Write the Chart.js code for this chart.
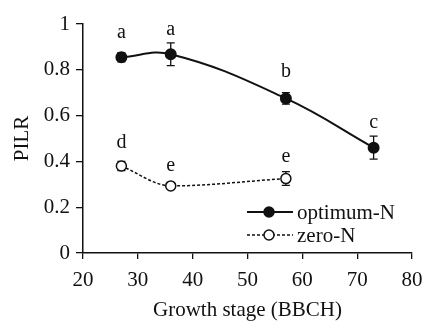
<!DOCTYPE html>
<html>
<head>
<meta charset="utf-8">
<script src="https://cdn.jsdelivr.net/npm/chart.js@4.4.0/dist/chart.umd.min.js"></script>
<style>
    html, body { margin: 0; padding: 0; background: #fff; }
    #wrap { width: 423px; height: 323px; }
</style>
</head>
<body>
<div id="wrap"><canvas id="pilrChart" width="423" height="323"></canvas></div>
<script>
// data
const stages = [27, 36, 57, 73];
const zeroStages = [27, 36, 57];
const optimumN = [0.855, 0.868, 0.675, 0.46];
const optimumErr = [0.02, 0.05, 0.025, 0.05];
const zeroN = [0.38, 0.293, 0.325];
const zeroErr = [0.02, 0.012, 0.03];
const optimumLetters = ['a', 'a', 'b', 'c'];
const optimumLetterY = [0.96, 0.974, 0.79, 0.57];
const zeroLetters = ['d', 'e', 'e'];
const zeroLetterY = [0.48, 0.38, 0.42];
const yTicks = [0, 0.2, 0.4, 0.6, 0.8, 1];
const xTicks = [20, 30, 40, 50, 60, 70, 80];

const SERIF = "'Liberation Serif', 'DejaVu Serif', serif";
const INK = '#111';

function toPoints(xs, ys) {
    return xs.map((x, i) => ({ x: x, y: ys[i] }));
}

// error bars go under the markers
const errorBars = {
    id: 'errorBars',
    beforeDatasetsDraw(chart) {
        const ctx = chart.ctx;
        const xs = chart.scales.x;
        const ys = chart.scales.y;
        const sets = [[stages, optimumN, optimumErr], [zeroStages, zeroN, zeroErr]];
        ctx.save();
        ctx.strokeStyle = INK;
        ctx.lineWidth = 1.3;
        sets.forEach(([sx, sy, se]) => {
            sx.forEach((x, i) => {
                const px = xs.getPixelForValue(x);
                const top = ys.getPixelForValue(sy[i] + se[i]);
                const bot = ys.getPixelForValue(sy[i] - se[i]);
                ctx.beginPath();
                ctx.moveTo(px, top); ctx.lineTo(px, bot);
                ctx.moveTo(px - 4, top); ctx.lineTo(px + 4, top);
                ctx.moveTo(px - 4, bot); ctx.lineTo(px + 4, bot);
                ctx.stroke();
            });
        });
        ctx.restore();
    }
};

// significance letters + legend inside the plot
const extras = {
    id: 'extras',
    afterDraw(chart) {
        const ctx = chart.ctx;
        const xs = chart.scales.x;
        const ys = chart.scales.y;
        ctx.save();
        ctx.fillStyle = INK;
        ctx.font = '20px ' + SERIF;
        ctx.textAlign = 'center';
        ctx.textBaseline = 'middle';
        stages.forEach((x, i) => {
            ctx.fillText(optimumLetters[i], xs.getPixelForValue(x), ys.getPixelForValue(optimumLetterY[i]));
        });
        zeroStages.forEach((x, i) => {
            ctx.fillText(zeroLetters[i], xs.getPixelForValue(x), ys.getPixelForValue(zeroLetterY[i]));
        });

        // legend
        const rows = [
            { label: chart.data.datasets[0].label, y: 212, dash: [], width: 2, fill: INK },
            { label: chart.data.datasets[1].label, y: 235, dash: [3, 2], width: 1.5, fill: '#fff' }
        ];
        ctx.font = '21px ' + SERIF;
        rows.forEach(r => {
            ctx.strokeStyle = INK;
            ctx.lineWidth = r.width;
            ctx.setLineDash(r.dash);
            ctx.beginPath();
            ctx.moveTo(247, r.y); ctx.lineTo(293, r.y);
            ctx.stroke();
            ctx.setLineDash([]);
            ctx.lineWidth = 1.5;
            ctx.fillStyle = r.fill;
            ctx.beginPath();
            ctx.arc(269, r.y, 5, 0, Math.PI * 2);
            ctx.fill();
            ctx.stroke();
            ctx.fillStyle = INK;
            ctx.textAlign = 'left';
            ctx.fillText(r.label, 297, r.y + 1);
        });
        ctx.restore();
    }
};

new Chart(document.getElementById('pilrChart'), {
    type: 'line',
    data: {
        datasets: [
            {
                label: 'optimum-N',
                data: toPoints(stages, optimumN),
                borderColor: INK,
                borderWidth: 2,
                backgroundColor: INK,
                pointBackgroundColor: INK,
                pointBorderColor: INK,
                pointRadius: 5,
                tension: 0.4
            },
            {
                label: 'zero-N',
                data: toPoints(zeroStages, zeroN),
                borderColor: INK,
                borderWidth: 1.5,
                borderDash: [3, 2],
                pointBackgroundColor: '#fff',
                pointBorderColor: INK,
                pointBorderWidth: 1.5,
                pointRadius: 5,
                cubicInterpolationMode: 'monotone'
            }
        ]
    },
    options: {
        responsive: false,
        animation: false,
        layout: { padding: { top: 24, right: 11, left: 0, bottom: 0 } },
        plugins: {
            legend: { display: false },
            tooltip: { enabled: false }
        },
        scales: {
            x: {
                type: 'linear',
                min: 20,
                max: 80,
                afterBuildTicks: (s) => { s.ticks = xTicks.map(v => ({ value: v })); },
                afterFit: (s) => { s.height = 70; s.paddingLeft = 0; s.paddingRight = 0; },
                grid: { drawOnChartArea: false, tickLength: 6, color: INK, lineWidth: 1.3 },
                border: { color: INK, width: 1.5 },
                ticks: { color: INK, font: { family: SERIF, size: 21 }, padding: 9, maxRotation: 0 },
                title: {
                    display: true,
                    text: 'Growth stage (BBCH)',
                    color: INK,
                    font: { family: SERIF, size: 21 },
                    padding: { top: 2, bottom: 0 }
                }
            },
            y: {
                min: 0,
                max: 1,
                afterBuildTicks: (s) => { s.ticks = yTicks.map(v => ({ value: v })); },
                afterFit: (s) => { s.width = 83; s.paddingTop = 0; s.paddingBottom = 0; },
                grid: { drawOnChartArea: false, tickLength: 7, color: INK, lineWidth: 1.3 },
                border: { color: INK, width: 1.5 },
                ticks: {
                    color: INK,
                    font: { family: SERIF, size: 21 },
                    padding: 6,
                    callback: (v) => String(Math.round(v * 10) / 10)
                },
                title: {
                    display: true,
                    text: 'PILR',
                    color: INK,
                    font: { family: SERIF, size: 21 },
                    padding: { top: 10, bottom: 0 }
                }
            }
        }
    },
    plugins: [errorBars, extras]
});
</script>
</body>
</html>
